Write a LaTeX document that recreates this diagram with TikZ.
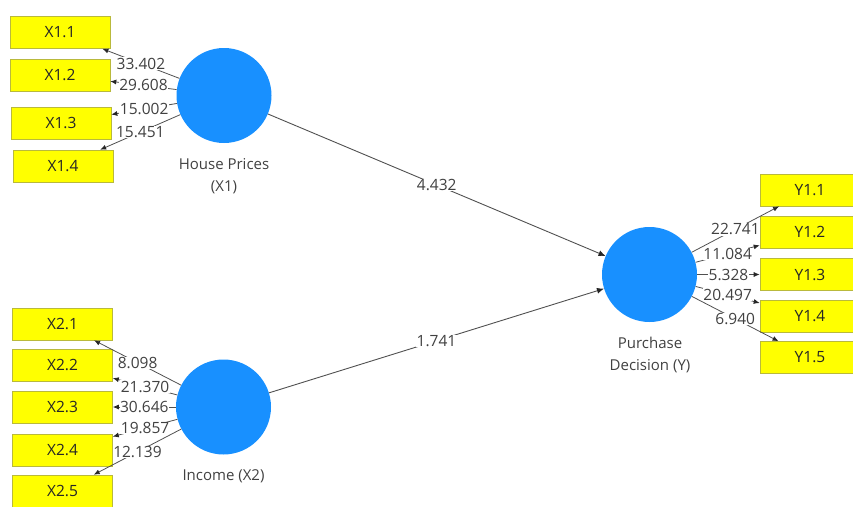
\documentclass[tikz,border=0pt]{standalone}
\usepackage{fontspec}
\setmainfont{Open Sans}
\usetikzlibrary{arrows.meta}
\definecolor{lvblue}{RGB}{24,144,255}
\definecolor{indyel}{RGB}{255,255,0}
\definecolor{indbord}{RGB}{185,185,60}
\definecolor{lncol}{RGB}{80,80,80}
\definecolor{txcol}{RGB}{65,65,65}
\begin{document}
\begin{tikzpicture}[x=1pt,y=-1pt,
  font=\fontsize{15.5}{18}\selectfont,
  lvnode/.style={circle, fill=lvblue, minimum size=95pt, inner sep=0pt},
  ibox/.style={rectangle, fill=indyel, draw=indbord, line width=0.6pt, minimum width=100pt, minimum height=32pt, inner sep=0pt, text=black!85},
  loadarr/.style={draw=lncol, line width=0.8pt, -{Latex[length=6pt,width=5pt,color=black!85]}},
  patharr/.style={draw=lncol, line width=0.9pt, -{Latex[length=7pt,width=6pt,color=black!85]}},
  lab/.style={fill=white, inner sep=0.5pt, text=txcol},
  lvlab/.style={align=center, text=txcol, font=\fontsize{15}{22.5}\selectfont}
]
\useasboundingbox (0,0) rectangle (853,506);
% latent variables
\node[lvnode] (hp) at (224,95.5) {};
\node[lvnode] (inc) at (223.5,407) {};
\node[lvnode] (pd) at (649.5,274.5) {};
\node[lvlab] (hpl) at (224,176) {House Prices\\(X1)};
\node[lvlab] (incl) at (223.5,476) {Income (X2)};
\node[lvlab] (pdl) at (650,355) {Purchase\\Decision (Y)};
% indicators X1
\node[ibox] (x11) at (60,32.5) {X1.1};
\node[ibox] (x12) at (60,75) {X1.2};
\node[ibox] (x13) at (61,123) {X1.3};
\node[ibox] (x14) at (63,166) {X1.4};
% indicators X2
\node[ibox] (x21) at (62.5,324) {X2.1};
\node[ibox] (x22) at (62.5,365) {X2.2};
\node[ibox] (x23) at (62.5,407) {X2.3};
\node[ibox] (x24) at (62.5,450) {X2.4};
\node[ibox] (x25) at (62.5,491) {X2.5};
% indicators Y
\node[ibox] (y11) at (810,190) {Y1.1};
\node[ibox] (y12) at (810,232) {Y1.2};
\node[ibox] (y13) at (810,274.5) {Y1.3};
\node[ibox] (y14) at (810,316) {Y1.4};
\node[ibox] (y15) at (810,357.5) {Y1.5};
% loadings X1
\draw[loadarr] (hp) -- (x11) node[midway, lab] {33.402};
\draw[loadarr] (hp) -- (x12) node[midway, lab] {29.608};
\draw[loadarr] (hp) -- (x13) node[midway, lab] {15.002};
\draw[loadarr] (hp) -- (x14) node[midway, lab] {15.451};
% loadings X2
\draw[loadarr] (inc) -- (x21) node[midway, lab] {8.098};
\draw[loadarr] (inc) -- (x22) node[midway, lab] {21.370};
\draw[loadarr] (inc) -- (x23) node[midway, lab] {30.646};
\draw[loadarr] (inc) -- (x24) node[midway, lab] {19.857};
\draw[loadarr] (inc) -- (x25) node[midway, lab] {12.139};
% loadings Y
\draw[loadarr] (pd) -- (y11) node[midway, lab] {22.741};
\draw[loadarr] (pd) -- (y12) node[midway, lab] {11.084};
\draw[loadarr] (pd) -- (y13) node[midway, lab] {5.328};
\draw[loadarr] (pd) -- (y14) node[midway, lab] {20.497};
\draw[loadarr] (pd) -- (y15) node[midway, lab] {6.940};
% structural paths
\draw[patharr] (hp) -- (pd) node[midway, lab] {4.432};
\draw[patharr] (inc) -- (pd) node[midway, lab] {1.741};
\end{tikzpicture}
\end{document}
